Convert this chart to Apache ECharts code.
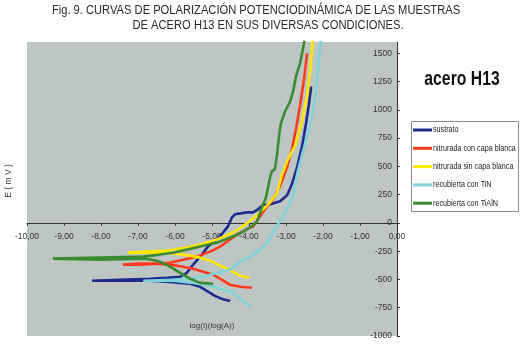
<!DOCTYPE html>
<html><head><meta charset="utf-8">
<script src="https://cdn.jsdelivr.net/npm/echarts@6/dist/echarts.min.js"></script>
<style>html,body{margin:0;padding:0;background:#fff}#c{width:525px;height:345px}</style>
</head><body><div id="c"></div><script>
// Data: log(I) [log(A)] and E [mV], ordered along the scan (cathodic end -> Ecorr -> anodic)
var seriesNames = ['sustrato', 'nitrurada con capa blanca', 'nitrurada sin capa blanca', 'recubierta con TiN', 'recubierta con TiAlN'];
var seriesColors = ['#1f2a8e', '#ff3a1e', '#ffe800', '#7fd3d9', '#3a8b31'];

var sustratoLogI = [-4.51,-4.73,-4.92,-5.14,-5.32,-5.59,-5.86,-6.14,-6.68,-7.49,-8.24,-7.49,-6.68,-6.22,-5.86,-5.68,-5.51,-5.27,-5.11,-4.86,-4.70,-4.57,-4.46,-4.38,-4.05,-3.89,-3.76,-3.62,-3.43,-3.16,-2.97,-2.84,-2.70,-2.57,-2.46,-2.38,-2.32];
var sustratoE    = [-690,-672,-645,-601,-565,-538,-530,-521,-512,-512,-512,-503,-494,-485,-476,-441,-369,-280,-209,-147,-85,-31,49,76,93,93,120,156,165,191,245,343,494,672,876,1050,1206];

var capaBlancaLogI = [-3.92,-4.24,-4.51,-4.73,-4.97,-5.24,-5.51,-5.78,-6.14,-6.49,-6.95,-7.41,-6.95,-6.41,-6.14,-5.78,-5.41,-5.05,-4.78,-4.51,-4.32,-4.16,-3.97,-3.89,-3.70,-3.51,-3.35,-3.16,-2.97,-2.84,-2.73,-2.62,-2.51,-2.43];
var capaBlancaE    = [-574,-565,-547,-503,-458,-432,-405,-387,-369,-360,-369,-369,-360,-360,-352,-325,-298,-254,-209,-147,-102,-76,-40,-31,58,147,209,325,494,654,832,1037,1277,1500];

var sinCapaLogI = [-4.00,-4.24,-4.43,-4.78,-5.05,-5.32,-5.59,-6.05,-6.49,-7.27,-7.22,-6.22,-5.68,-5.32,-4.86,-4.43,-4.05,-3.70,-3.43,-3.24,-3.11,-2.95,-2.76,-2.57,-2.43,-2.35,-2.27];
var sinCapaE    = [-485,-467,-432,-378,-334,-307,-289,-271,-263,-263,-254,-245,-218,-191,-147,-85,-4,93,182,267,427,560,680,894,1126,1340,1633];

var tinLogI = [-3.92,-4.11,-4.30,-4.46,-4.70,-5.05,-5.51,-6.05,-6.86,-6.05,-5.32,-4.86,-4.51,-4.24,-3.97,-3.70,-3.51,-3.35,-3.22,-3.08,-2.95,-2.81,-2.70,-2.54,-2.35,-2.22,-2.14,-2.08,-2.05];
var tinE    = [-743,-708,-654,-610,-592,-556,-530,-512,-512,-503,-485,-441,-414,-343,-298,-236,-174,-85,-13,58,147,236,431,636,850,1081,1322,1562,1650];

var tialnLogI = [-4.97,-5.32,-5.59,-5.86,-6.14,-6.41,-6.62,-6.86,-8.03,-9.30,-8.03,-6.86,-6.41,-6.05,-5.68,-5.32,-4.86,-4.51,-4.24,-3.97,-3.78,-3.65,-3.54,-3.43,-3.38,-3.30,-3.24,-3.19,-3.14,-3.03,-2.89,-2.81,-2.73,-2.62,-2.54,-2.49];
var tialnE    = [-538,-530,-494,-441,-387,-343,-325,-316,-325,-316,-307,-298,-280,-263,-236,-209,-174,-129,-93,-40,13,138,227,405,458,476,609,761,877,983,1072,1161,1295,1411,1544,1633];

var xTickMin = -10, xTickMax = 0, xTickStep = 1;
var yTickMin = -1000, yTickMax = 1600, yTickStep = 250;

var logIs = [sustratoLogI, capaBlancaLogI, sinCapaLogI, tinLogI, tialnLogI];
var Es = [sustratoE, capaBlancaE, sinCapaE, tinE, tialnE];

var FONT = '"Liberation Sans", Arial, sans-serif';
var GRID = { left: 27, top: 42, width: 370, height: 294 };
// x axis crosses the E axis at E = 0 (offset derived from the y scale)
var xAxisOffset = -GRID.height * (0 - yTickMin) / (yTickMax - yTickMin);

var series = seriesNames.map(function (name, i) {
  return {
    name: name, type: 'line', showSymbol: false, symbol: 'none',
    data: logIs[i].map(function (x, k) { return [x, Es[i][k]]; }),
    lineStyle: { width: 2.6, color: seriesColors[i] },
    itemStyle: { color: seriesColors[i] },
    clip: true
  };
});

// legend drawn as graphic (compressed text like the original narrow font)
var legendX = 411, legendY = 121, legendW = 107, legendH = 90, legendStep = 18.3;
var legendGraphic = [{ type: 'rect', shape: { x: legendX + 0.5, y: legendY + 0.5, width: legendW, height: legendH },
  style: { fill: '#ffffff', stroke: '#8a8a8a', lineWidth: 1 }, z: 10 }];
seriesNames.forEach(function (name, i) {
  var cy = legendY + 9 + legendStep * i;
  legendGraphic.push({ type: 'rect', shape: { x: legendX + 2, y: cy - 1.5, width: 19, height: 3 },
    style: { fill: seriesColors[i] }, z: 11 });
  legendGraphic.push({ type: 'text', x: legendX + 22, y: cy, scaleX: 0.8,
    style: { text: name, font: '9px ' + FONT, fill: '#222', textVerticalAlign: 'middle' }, z: 11 });
});

var chart = echarts.init(document.getElementById('c'), null, { renderer: 'canvas' });
chart.setOption({
  animation: false,
  backgroundColor: '#ffffff',
  grid: { left: GRID.left, top: GRID.top, width: GRID.width, height: GRID.height, show: true,
    backgroundColor: '#bec6c4', borderWidth: 0, containLabel: false, outerBoundsMode: 'none' },
  xAxis: {
    type: 'value', position: 'bottom', offset: xAxisOffset, min: xTickMin, max: xTickMax, interval: xTickStep,
    axisLine: { onZero: false, lineStyle: { color: '#333', width: 1 } },
    axisTick: { show: true, length: 3, lineStyle: { color: '#333' } },
    splitLine: { show: false },
    axisLabel: { fontSize: 8.5, fontFamily: FONT, color: '#333', margin: 9,
      formatter: function (v) { return v.toFixed(2).replace('.', ','); } },
    name: 'log(I)(log(A))', nameLocation: 'middle', nameGap: 99,
    nameTextStyle: { fontSize: 8, fontFamily: FONT, color: '#333' }
  },
  yAxis: {
    type: 'value', position: 'right', min: yTickMin, max: yTickMax, interval: yTickStep,
    axisLine: { show: true, onZero: false, lineStyle: { color: '#333', width: 1 } },
    axisTick: { show: true, length: 3, lineStyle: { color: '#333' } },
    splitLine: { show: false },
    axisLabel: { inside: true, margin: 5, fontSize: 8.5, fontFamily: FONT, color: '#333', showMaxLabel: false,
      formatter: function (v) { return v === yTickMax ? '' : String(v); } }
  },
  graphic: [
    { type: 'text', x: 256, y: 11, scaleX: 0.93, style: { text: 'Fig. 9. CURVAS DE POLARIZACIÓN POTENCIODINÁMICA DE LAS MUESTRAS', font: '12px ' + FONT, fill: '#2a2a2a', textAlign: 'center', textVerticalAlign: 'middle' } },
    { type: 'text', x: 268, y: 26, scaleX: 0.93, style: { text: 'DE ACERO H13 EN SUS DIVERSAS CONDICIONES.', font: '12px ' + FONT, fill: '#2a2a2a', textAlign: 'center', textVerticalAlign: 'middle' } },
    { type: 'text', x: 462, y: 79, scaleX: 0.75, style: { text: 'acero H13', font: 'bold 21px ' + FONT, fill: '#111', textAlign: 'center', textVerticalAlign: 'middle' } },
    { type: 'text', x: 9, y: 181, rotation: Math.PI / 2, style: { text: 'E ( m V )', font: '8.5px ' + FONT, fill: '#333', textAlign: 'center', textVerticalAlign: 'middle' } }
  ].concat(legendGraphic),
  series: series
});
</script></body></html>
